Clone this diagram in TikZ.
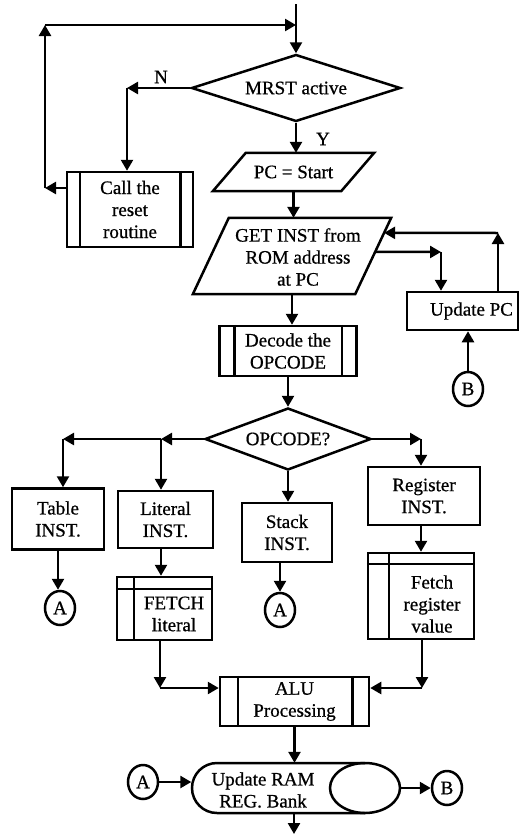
\documentclass[tikz,border=0pt]{standalone}
\usepackage{fontspec}
\setmainfont{Liberation Serif}[FakeBold=0.7]
\usetikzlibrary{shapes.geometric,arrows.meta,calc}
\begin{document}
\begin{tikzpicture}[x=1pt,y=-1pt,
  every node/.style={font=\fontsize{19}{22}\selectfont, align=center, inner sep=0pt},
  lw/.style={line width=2.5pt},
  boxd/.style={draw, lw, rectangle},
  dia/.style={draw, lw, shape=diamond, shape aspect=3},
  conn/.style={draw, lw, ellipse, minimum width=30pt, minimum height=34pt},
  arr/.style={lw, -{Triangle[length=11pt,width=12pt]}}]
\useasboundingbox (0,0) rectangle (520,835);

% MRST decision
\node[dia, minimum width=209pt, minimum height=67pt] (mrst) at (296,88) {MRST active};
\coordinate (start) at (296,4);
\draw[arr] (start) -- (mrst.north);

% reset routine
\node[boxd, minimum width=126pt, minimum height=75pt] (reset) at (130,209.5) {Call the\\reset\\routine};
\draw[lw] ([xshift=14pt]reset.north west) -- ([xshift=14pt]reset.south west);
\draw[lw] ([xshift=-14pt]reset.north east) -- ([xshift=-14pt]reset.south east);

\coordinate (c4) at (127,88);
\draw[arr] (mrst.west) -- (c4);
\draw[arr] (c4) -- (c4 |- reset.north);
\node (nl) at (161,77) {N};

\coordinate (c1) at (45,188);
\coordinate (c2) at (45,25);
\coordinate (c3) at (296,25);
\draw[arr] (c1 -| reset.west) -- (c1);
\draw[arr] (c1) -- (c2);
\draw[arr] (c2) -- (c3);

% PC = Start
\node[minimum width=161pt, minimum height=38pt] (pc) at (293.5,172) {PC = Start};
\draw[lw] ([xshift=33pt]pc.north west) -- (pc.north east) -- ([xshift=-33pt]pc.south east) -- (pc.south west) -- cycle;
\draw[arr] (mrst.south) -- (mrst.south |- pc.north);
\node (yl) at (323,139) {Y};

% GET INST
\node[minimum width=198pt, minimum height=76pt] (get) at (292,256) {};
\draw[lw] ([xshift=36pt]get.north west) -- (get.north east) -- ([xshift=-36pt]get.south east) -- (get.south west) -- cycle;
\node (gett) at (298,257) {GET INST from\\ROM address\\at PC};
\draw[arr] (pc.south) -- (pc.south |- get.north);

% Update PC
\node[boxd, minimum width=111pt, minimum height=38pt] (upd) at (462.5,311) {};
\node (updt) at (471.5,311) {Update PC};
\coordinate (gr1) at ($(get.north east)!0.447!([xshift=-36pt]get.south east)$);
\coordinate (gr2) at ($(get.north east)!0.197!([xshift=-36pt]get.south east)$);
\coordinate (k1) at (441,252);
\coordinate (k2) at (498,233);
\draw[arr] (gr1) -- (k1);
\draw[arr] (k1) -- (k1 |- upd.north);
\draw[arr] (k2 |- upd.north) -- (k2);
\draw[arr] (k2) -- (gr2);
\node[conn] (b1) at (468,389) {B};
\draw[arr] (b1.north) -- (b1.north |- upd.south);

% Decode
\node[boxd, minimum width=137pt, minimum height=50pt] (dec) at (288,351) {Decode the\\OPCODE};
\draw[lw] ([xshift=16pt]dec.north west) -- ([xshift=16pt]dec.south west);
\draw[lw] ([xshift=-16pt]dec.north east) -- ([xshift=-16pt]dec.south east);
\draw[arr] (get.south) -- (get.south |- dec.north);

% OPCODE?
\node[dia, minimum width=166pt, minimum height=62pt] (op) at (288,439) {OPCODE?};
\draw[arr] (dec.south) -- (op.north);

% instruction boxes
\node[boxd, minimum width=92pt, minimum height=61pt] (tab) at (58,519) {Table\\INST.};
\node[boxd, minimum width=95pt, minimum height=57pt] (lit) at (165.5,519.5) {Literal\\INST.};
\node[boxd, minimum width=90pt, minimum height=59pt] (stk) at (287,532.5) {Stack\\INST.};
\node[boxd, minimum width=112pt, minimum height=58pt] (reg) at (424,496) {Register\\INST.};

\coordinate (l1) at (161,439);
\coordinate (l0) at (63,439);
\coordinate (r1) at (421,439);
\draw[arr] (op.west) -- (l1);
\draw[arr] (l1) -- (l0);
\draw[arr] (l0) -- (l0 |- tab.north);
\draw[arr] (l1) -- (l1 |- lit.north);
\draw[arr] (op.east) -- (r1);
\draw[arr] (r1) -- (r1 |- reg.north);
\draw[arr] (op.south) -- (op.south |- stk.north);

% connectors A
\node[conn] (a1) at (60,608) {A};
\node[conn] (a2) at (280,610) {A};
\draw[arr] (tab.south) -- (tab.south |- a1.north);
\draw[arr] (a2.north |- stk.south) -- (a2.north);

% FETCH literal
\node[boxd, minimum width=95pt, minimum height=63pt] (fl) at (164.5,608.5) {};
\draw[lw] ([yshift=-13pt]fl.north west) -- ([yshift=-13pt]fl.north east);
\draw[lw] ([xshift=18pt]fl.north west) -- ([xshift=18pt]fl.south west);
\node (flt) at (174,614) {FETCH\\literal};
\draw[arr] (l1 |- lit.south) -- (l1 |- fl.north);

% Fetch register value
\node[boxd, minimum width=106pt, minimum height=86pt] (fr) at (421,596) {};
\draw[lw] ([yshift=-12pt]fr.north west) -- ([yshift=-12pt]fr.north east);
\draw[lw] ([xshift=22pt]fr.north west) -- ([xshift=22pt]fr.south west);
\node (frt) at (432,604) {Fetch\\register\\value};
\draw[arr] (r1 |- reg.south) -- (r1 |- fr.north);

% ALU
\node[boxd, minimum width=149pt, minimum height=49pt] (alu) at (294.5,701.5) {ALU\\Processing};
\draw[lw] ([xshift=19pt]alu.north west) -- ([xshift=19pt]alu.south west);
\draw[lw] ([xshift=-18pt]alu.north east) -- ([xshift=-18pt]alu.south east);
\coordinate (m1) at (160,688);
\coordinate (m2) at (422,688);
\draw[arr] (m1 |- fl.south) -- (m1);
\draw[arr] (m1) -- (m1 -| alu.west);
\draw[arr] (m2 |- fr.south) -- (m2);
\draw[arr] (m2) -- (m2 -| alu.east);

% Update RAM drum
\node[minimum width=209pt, minimum height=50pt] (ram) at (296,788) {};
\draw[lw] (365,763) -- (217,763) arc[start angle=270, end angle=90, radius=25] -- (365,813);
\draw[lw] (365,788) ellipse[x radius=35, y radius=25];
\node (ramt) at (263,790) {Update RAM\\REG. Bank};
\draw[arr] (alu.south) -- (alu.south |- ram.north);
\node[conn] (a3) at (143,782) {A};
\node[conn] (b2) at (447,788) {B};
\draw[arr] (a3.east) -- (a3.east -| ram.west);
\draw[arr] (ram.east) -- (b2.west);
\coordinate (endp) at (294,834);
\draw[arr] (endp |- ram.south) -- (endp);
\end{tikzpicture}
\end{document}
